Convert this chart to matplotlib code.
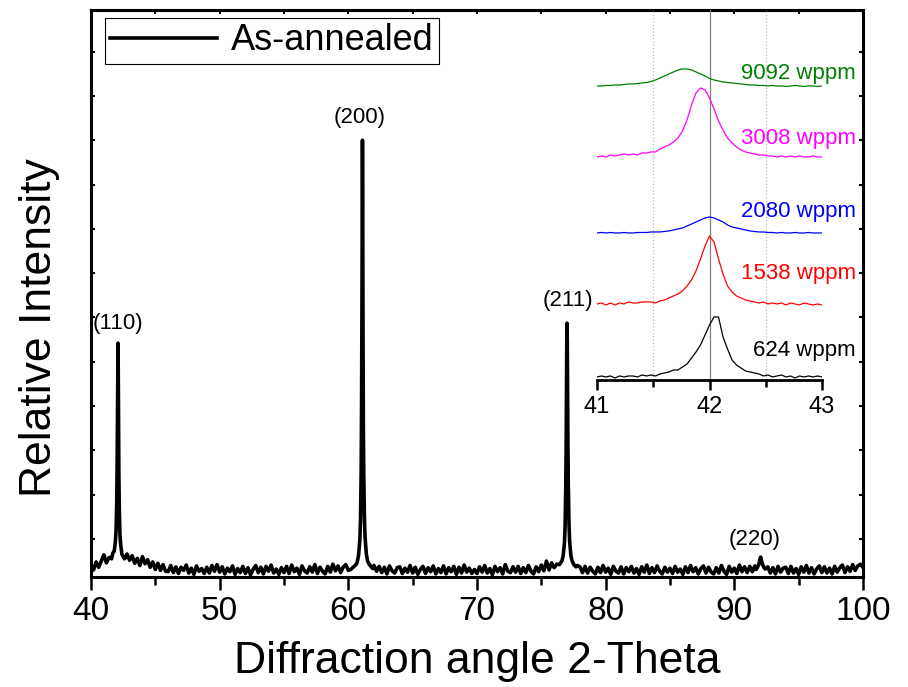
import numpy as np
import matplotlib
matplotlib.use("Agg")
import matplotlib.pyplot as plt
from matplotlib.ticker import MultipleLocator

plt.rcParams['font.family'] = ['Liberation Sans', 'DejaVu Sans']

# ---- main pattern (as-annealed), baseline read every 0.2 deg ----
base_x = np.round(np.arange(40, 100.001, 0.2), 1)
base_y = np.array([
    0.42, 0.30, 0.48, 0.36, 0.50, 0.64, 0.46, 0.58, 0.60, 0.70, 1.00, 0.90, 0.70, 0.60, 0.66,
    0.52, 0.62, 0.45, 0.56, 0.40, 0.60, 0.44, 0.53, 0.36, 0.48, 0.31, 0.45, 0.29, 0.42, 0.27,
    0.26, 0.40, 0.24, 0.37, 0.22, 0.36, 0.29, 0.41, 0.23, 0.34, 0.20, 0.39, 0.27, 0.33, 0.22,
    0.36, 0.23, 0.40, 0.27, 0.42, 0.25, 0.37, 0.21, 0.34, 0.26, 0.39, 0.20, 0.33, 0.24, 0.38,
    0.22, 0.35, 0.19, 0.31, 0.40, 0.24, 0.36, 0.21, 0.38, 0.27, 0.41, 0.23, 0.32, 0.20, 0.35,
    0.24, 0.38, 0.22, 0.41, 0.26, 0.34, 0.20, 0.39, 0.28, 0.23, 0.37, 0.25, 0.42, 0.22, 0.36,
    0.27, 0.21, 0.38, 0.25, 0.43, 0.28, 0.39, 0.24, 0.36, 0.42, 0.29, 0.31, 0.45, 0.60, 0.90,
    2.50, 1.00, 0.60, 0.45, 0.38, 0.40, 0.27, 0.38, 0.24, 0.36, 0.21, 0.39, 0.28, 0.23, 0.35,
    0.37, 0.22, 0.34, 0.25, 0.40, 0.23, 0.36, 0.20, 0.31, 0.38, 0.22, 0.35, 0.26, 0.39, 0.21,
    0.33, 0.24, 0.39, 0.21, 0.35, 0.26, 0.38, 0.20, 0.36, 0.23, 0.41, 0.25, 0.34, 0.22, 0.31,
    0.22, 0.37, 0.25, 0.40, 0.23, 0.33, 0.19, 0.38, 0.26, 0.35, 0.21, 0.42, 0.27, 0.24, 0.37,
    0.25, 0.38, 0.22, 0.35, 0.24, 0.40, 0.27, 0.21, 0.37, 0.26, 0.41, 0.28, 0.50, 0.30, 0.46,
    0.35, 0.43, 0.42, 0.60, 0.90, 2.00, 1.00, 0.60, 0.45, 0.40, 0.37, 0.24, 0.38, 0.23, 0.36,
    0.27, 0.21, 0.36, 0.24, 0.40, 0.25, 0.34, 0.20, 0.38, 0.27, 0.23, 0.37, 0.21, 0.35, 0.26,
    0.38, 0.23, 0.33, 0.20, 0.37, 0.25, 0.41, 0.22, 0.35, 0.24, 0.39, 0.27, 0.21, 0.36, 0.25,
    0.34, 0.22, 0.38, 0.25, 0.32, 0.20, 0.37, 0.24, 0.40, 0.26, 0.35, 0.21, 0.33, 0.39, 0.23,
    0.36, 0.25, 0.21, 0.35, 0.23, 0.40, 0.27, 0.20, 0.38, 0.25, 0.34, 0.22, 0.41, 0.26, 0.37,
    0.24, 0.38, 0.26, 0.39, 0.40, 0.55, 0.42, 0.33, 0.37, 0.23, 0.35, 0.21, 0.38, 0.25, 0.34,
    0.36, 0.22, 0.38, 0.23, 0.33, 0.20, 0.37, 0.25, 0.40, 0.23, 0.35, 0.21, 0.32, 0.39, 0.24,
    0.37, 0.23, 0.34, 0.21, 0.38, 0.25, 0.35, 0.41, 0.24, 0.37, 0.27, 0.42, 0.29, 0.39, 0.43,
    0.36])

# peak profiles, read more densely
p110_x = [41.5, 41.6, 41.7, 41.8, 41.85, 41.9, 41.95, 42.0, 42.03, 42.06, 42.08, 42.1,
          42.12, 42.14, 42.17, 42.2, 42.25, 42.3, 42.35, 42.4, 42.5, 42.6, 42.7]
p110_y = [0.58, 0.55, 0.68, 0.72, 0.82, 0.95, 1.2, 1.8, 2.6, 3.9, 4.9, 5.42,
          4.8, 3.8, 2.4, 1.7, 1.1, 0.9, 0.78, 0.66, 0.60, 0.55, 0.58]
p200_x = [60.3, 60.45, 60.6, 60.7, 60.8, 60.9, 60.95, 61.0, 61.03, 61.06, 61.08, 61.1,
          61.12, 61.14, 61.17, 61.2, 61.25, 61.3, 61.4, 61.5, 61.6, 61.75, 61.9]
p200_y = [0.34, 0.38, 0.42, 0.48, 0.64, 1.0, 1.45, 2.55, 4.0, 6.2, 8.6, 10.0,
          8.5, 6.0, 3.5, 2.5, 1.5, 1.05, 0.66, 0.50, 0.44, 0.38, 0.33]
p211_x = [76.4, 76.5, 76.6, 76.7, 76.8, 76.85, 76.9, 76.93, 76.96, 76.98, 77.0,
          77.02, 77.04, 77.07, 77.1, 77.15, 77.2, 77.3, 77.4, 77.55, 77.7]
p211_y = [0.42, 0.46, 0.50, 0.62, 0.92, 1.3, 2.15, 3.1, 4.5, 5.45, 5.87,
          5.4, 4.5, 3.1, 2.2, 1.35, 0.95, 0.62, 0.50, 0.41, 0.37]
p220_x = [91.7, 91.8, 91.9, 92.0, 92.05, 92.1, 92.2, 92.3, 92.4, 92.5]
p220_y = [0.31, 0.36, 0.42, 0.55, 0.59, 0.52, 0.42, 0.36, 0.32, 0.34]

peak_names = ['(110)', '(200)', '(211)', '(220)']
peak_label_x = [42.1, 60.9, 77.07, 91.6]
peak_label_y = [5.87, 10.52, 6.39, 0.98]

# ---- inset: (110) peak vs hydrogen content ----
inset_x = np.round(np.linspace(41, 43, 51), 2)
h624 = [0, 1, 0, 1, -1, 1, 0, 1, 1, 0,
        2, 1, 2, 1, 3, 4, 5, 7, 7, 10,
        13, 19, 25, 32, 42, 52, 60, 60, 40, 28,
        17, 12, 9, 6, 5, 4, 3, 1, 2, 0,
        1, 2, 0, 1, -1, 1, 0, 1, 0, 1,
        0]
h1538 = [0, 1, -1, 1, -1, 1, 0, 2, 1, 1,
         2, 2, 2, 1, 3, 4, 6, 8, 10, 13,
         18, 24, 33, 45, 58, 68, 62, 45, 30, 18,
         12, 8, 6, 4, 3, 2, 1, 2, 0, 1,
         0, 1, -1, 1, 0, -1, 1, 0, -1, 0,
         -1]
h2080 = [0, 0.5, 0, 0.5, 0, 0, 0.5, 0, 0, 0.5,
         0.5, 0.5, 1, 1, 1, 1.5, 2, 3, 4, 5,
         7, 9, 11, 13, 15, 16, 15, 13, 11, 8,
         6, 5, 4, 3, 2, 1.5, 1, 1, 0.5, 0.5,
         0, 0.5, 0, 0, 0.5, 0, 0, 0.5, 0, 0,
         0]
h3008 = [0, 1, 0, 2, 1, 2, 3, 2, 3, 2,
         4, 4, 5, 5, 8, 10, 12, 15, 19, 26,
         37, 52, 64, 69, 67, 59, 48, 36, 27, 19,
         14, 10, 7, 5, 4, 3, 2, 2, 1, 1,
         0, 1, 0, 1, 0, 1, 0, 0, 1, 0,
         0]
h9092 = [0, 0, 0.5, 0.5, 1, 1, 1.5, 2, 2, 2.5,
         3, 3.5, 4.5, 6, 8, 10, 12, 14, 16, 17,
         17, 16, 14, 12, 10, 7.5, 6, 5, 4, 3.5,
         3, 2.5, 2, 1.5, 1, 1, 0.5, 0.5, 0, 0.5,
         0, 0, -0.5, 0, 0.5, 0, -0.5, 0, 0, -0.5,
         0]
inset_curves = [h624, h1538, h2080, h3008, h9092]
inset_labels = ['624 wppm', '1538 wppm', '2080 wppm', '3008 wppm', '9092 wppm']
inset_colors = ['#000000', '#ff0000', '#0000ff', '#ff00ff', '#008000']
inset_offsets = [3, 76, 147, 223, 294]
inset_label_y = [29, 106, 168, 241, 306]

# assemble main pattern: baseline outside the peak windows + peak profiles
keep = np.ones(len(base_x), dtype=bool)
for px in [p110_x, p200_x, p211_x, p220_x]:
    keep &= ~((base_x >= min(px)) & (base_x <= max(px)))
xx = np.concatenate([base_x[keep], p110_x, p200_x, p211_x, p220_x])
yy = np.concatenate([base_y[keep], p110_y, p200_y, p211_y, p220_y])
order = np.argsort(xx)
xx, yy = xx[order], yy[order]

fig = plt.figure(figsize=(9.08, 6.87), dpi=100)
ax = fig.add_axes([0.1002, 0.1601, 0.8502, 0.8253])
ax.plot(xx, yy, color='black', lw=2.6, label='As-annealed')
ax.set_xlim(40, 100)
ax.set_ylim(0.14, 12.94)

for name, lx, ly in zip(peak_names, peak_label_x, peak_label_y):
    ax.text(lx, ly, name, fontsize=16, ha='center', va='center')

ax.xaxis.set_major_locator(MultipleLocator(10))
ax.xaxis.set_minor_locator(MultipleLocator(5))
ax.yaxis.set_major_locator(MultipleLocator(1))
ax.tick_params(axis='x', which='major', direction='out', length=9.5, width=1.8,
               labelsize=24, pad=4, top=False)
ax.tick_params(axis='x', which='minor', direction='out', length=5.5, width=1.8, top=False)
ax.tick_params(axis='y', which='major', direction='in', length=3, width=1.5,
               left=True, right=True, labelleft=False)
for s in ax.spines.values():
    s.set_linewidth(2.2)

top = ax.secondary_xaxis('top')
top.xaxis.set_major_locator(MultipleLocator(10))
top.xaxis.set_minor_locator(MultipleLocator(5))
top.tick_params(which='both', direction='in', length=3, width=1.5, labeltop=False)
top.spines['top'].set_linewidth(2.2)

ax.set_xlabel('Diffraction angle 2-Theta', fontsize=32)
ax.set_ylabel('Relative Intensity', fontsize=32)
ax.xaxis.set_label_coords(0.5, -0.112)
ax.yaxis.set_label_coords(-0.040, 0.44)

leg = ax.legend(loc='upper left', bbox_to_anchor=(0.018, 0.986), borderaxespad=0,
                fontsize=26, fancybox=False, edgecolor='black', framealpha=1,
                handlelength=2.95, handletextpad=0.4, borderpad=0.15)
leg.get_frame().set_linewidth(0.8)

# inset
axi = fig.add_axes([0.6575, 0.4469, 0.2478, 0.5386])
axi.patch.set_alpha(0)
axi.set_xlim(41, 43)
axi.set_ylim(0, 370)
axi.axvline(41.5, color='#b8b8b8', ls=':', lw=0.9)
axi.axvline(42.5, color='#b8b8b8', ls=':', lw=0.9)
axi.axvline(42.0, color='#808080', lw=0.9)
for h, off, c, lab, ly in zip(inset_curves, inset_offsets, inset_colors, inset_labels, inset_label_y):
    axi.plot(inset_x, np.array(h) + off, color=c, lw=0.9)
    axi.text(43.30, ly, lab, color=c, fontsize=16, ha='right', va='center', clip_on=False)
for k in ['top', 'left', 'right']:
    axi.spines[k].set_visible(False)
axi.spines['bottom'].set_linewidth(2.0)
axi.set_yticks([])
axi.xaxis.set_major_locator(MultipleLocator(1))
axi.xaxis.set_minor_locator(MultipleLocator(0.5))
axi.tick_params(axis='x', which='major', direction='out', length=7.5, width=1.8,
                labelsize=17, pad=4)
axi.tick_params(axis='x', which='minor', direction='out', length=5, width=1.8)

fig.savefig('out.png', dpi=100)
